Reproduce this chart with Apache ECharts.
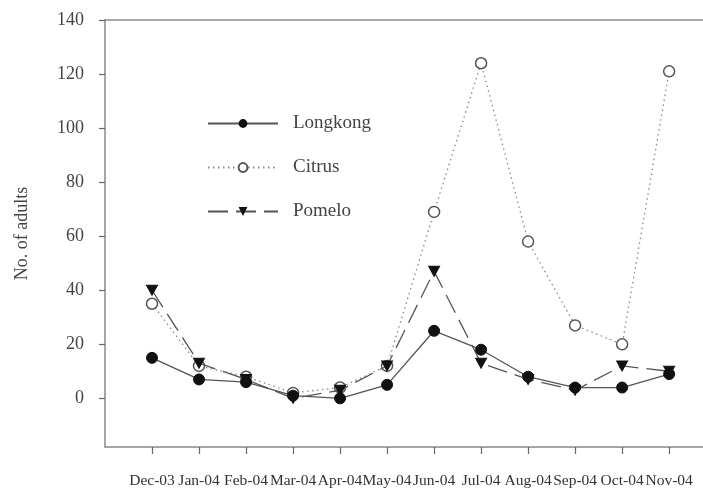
<!DOCTYPE html>
<html>
<head>
<meta charset="utf-8">
<script src="https://cdn.jsdelivr.net/npm/echarts@6/dist/echarts.min.js"></script>
<style>html,body{margin:0;padding:0;background:#fff;}#c{width:703px;height:489px;}</style>
</head>
<body>
<div id="c"></div>
<script>
var months = ['Dec-03','Jan-04','Feb-04','Mar-04','Apr-04','May-04','Jun-04','Jul-04','Aug-04','Sep-04','Oct-04','Nov-04'];
var xPos = [1,2,3,4,5,6,7,8,9,10,11,12];
var longkong = [15, 7, 6, 1, 0, 5, 25, 18, 8, 4, 4, 9];
var citrus   = [35, 12, 8, 2, 4, 12, 69, 124, 58, 27, 20, 121];
var pomelo   = [40, 13, 7, 0, 3, 12, 47, 13, 7, 3, 12, 10];
var yTicks = [0, 20, 40, 60, 80, 100, 120, 140];

function pairs(arr){ return arr.map(function(v,i){ return [xPos[i], v]; }); }

var serif = 'Liberation Serif, Times New Roman, serif';
var chart = echarts.init(document.getElementById('c'), null, {renderer:'canvas'});
chart.setOption({
  animation: false,
  backgroundColor: '#fff',
  grid: {left: 105, top: 20, right: 0, bottom: 42, show: false},
  legend: {
    orient: 'vertical', left: 207, top: 114, padding: 0,
    itemWidth: 70, itemHeight: 11, itemGap: 25,
    textStyle: {fontFamily: serif, fontSize: 19, color: '#444', padding: [0,0,0,10]},
    data: ['Longkong','Citrus','Pomelo']
  },
  xAxis: [{
    type: 'value', min: 0, max: 12.72,
    axisLine: {show: true, onZero: false, lineStyle: {color: '#8a8a8a', width: 1.5}},
    axisTick: {show: true, customValues: xPos, length: 7, lineStyle: {color: '#666', width: 1.2}},
    axisLabel: {customValues: xPos, margin: 26, fontFamily: serif, fontSize: 15.5, color: '#333',
      showMinLabel: true, showMaxLabel: true, hideOverlap: false,
      formatter: function(v){ return months[v-1] || ''; }},
    splitLine: {show: false}
  }, {
    type: 'value', min: 0, max: 12.72, position: 'top',
    axisLine: {show: true, onZero: false, lineStyle: {color: '#8a8a8a', width: 1.5}},
    axisTick: {show: false}, axisLabel: {show: false}, splitLine: {show: false}
  }],
  yAxis: {
    type: 'value', min: -18, max: 140,
    name: 'No. of adults', nameLocation: 'middle', nameGap: 74,
    nameTextStyle: {fontFamily: serif, fontSize: 18, color: '#444'},
    axisLine: {show: true, lineStyle: {color: '#8a8a8a', width: 1.5}},
    axisTick: {show: true, customValues: yTicks, length: 6, lineStyle: {color: '#666', width: 1.2}},
    axisLabel: {customValues: yTicks, margin: 21, fontFamily: serif, fontSize: 18, color: '#444'},
    splitLine: {show: false}
  },
  series: [
    {name: 'Longkong', type: 'line', data: pairs(longkong), z: 5,
      symbol: 'circle', symbolSize: 11,
      itemStyle: {color: '#111', borderColor: '#111'},
      lineStyle: {color: '#555', width: 1.3, type: 'solid'}},
    {name: 'Citrus', type: 'line', data: pairs(citrus), z: 3,
      symbol: 'circle', symbolSize: 11,
      itemStyle: {color: '#fff', borderColor: '#555', borderWidth: 1.5},
      lineStyle: {color: '#888', width: 1.3, type: [1.5, 3.5]}},
    {name: 'Pomelo', type: 'line', data: pairs(pomelo), z: 4,
      symbol: 'triangle', symbolRotate: 180, symbolSize: [11, 10],
      itemStyle: {color: '#111', borderColor: '#111'},
      lineStyle: {color: '#555', width: 1.3, type: [20, 8]}}
  ]
});
</script>
</body>
</html>
